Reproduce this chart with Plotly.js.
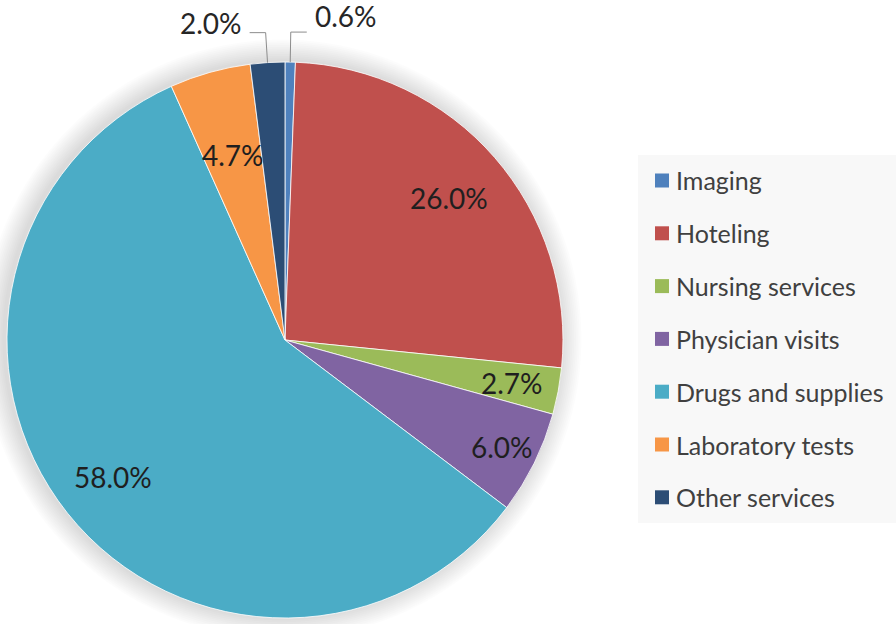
<!DOCTYPE html>
<html><head><meta charset="utf-8">
<script src="https://cdn.plot.ly/plotly-3.0.1.min.js"></script>
<style>html,body{margin:0;padding:0;background:#fff}#chart{width:896px;height:624px}</style>
</head><body><div id="chart"></div>
<script>
const categories = ['Imaging','Hoteling','Nursing services','Physician visits','Drugs and supplies','Laboratory tests','Other services'];
const shares = [0.6, 26.0, 2.7, 6.0, 58.0, 4.7, 2.0];
const colors = ['#4f81bd','#c0504d','#9bbb59','#8064a2','#4bacc6','#f79646','#2c4d75'];
const outsideLabels = ['Imaging','Other services'];
// radial placement of inside labels, as a fraction of the radius (style only)
const labelRadius = [0, 0.78, 0.83, 0.87, 0.79, 0.69, 0];

const W = 896, H = 624;
const dom = {x:[0.0078, 0.6283], y:[0.0096, 0.9006]};
const cx = (dom.x[0]+dom.x[1])/2*W;
const cy = H - (dom.y[0]+dom.y[1])/2*H;
const R = Math.min((dom.x[1]-dom.x[0])*W, (dom.y[1]-dom.y[0])*H)/2;
const total = shares.reduce((a,b)=>a+b,0);
const FONT = 'Lato, "Open Sans", sans-serif';
const px = t=>t/W, py = t=>1-t/H;

const trace = {
  type:'pie', labels:categories, values:shares, sort:false, direction:'clockwise', rotation:0,
  marker:{colors:colors, line:{color:'#ffffff', width:0.8}},
  textinfo:'none', domain:dom, showlegend:false, hoverinfo:'label+value'
};

const shapes = [], annotations = [];
// soft shadow/glow under the pie
for(let k=1;k<=12;k++){
  const r = R + k*1.8;
  shapes.push({type:'circle', xref:'paper', yref:'paper', layer:'below',
    x0:px(cx-3-r), x1:px(cx-3+r), y0:py(cy-1+r), y1:py(cy-1-r),
    fillcolor:'rgba(0,0,0,0.012)', line:{width:0}});
}

let cum = 0;
shares.forEach((v,i)=>{
  const mid = (cum + v/2)/total*2*Math.PI; cum += v;
  const label = v.toFixed(1)+'%';
  if(outsideLabels.includes(categories[i])){
    const ex = cx + R*Math.sin(mid), ey = cy - R*Math.cos(mid);
    const kx = cx + (R+30)*Math.sin(mid), ky = cy - (R+30)*Math.cos(mid);
    const side = Math.sin(mid) >= 0 ? 1 : -1;
    const hx = kx + side*16;
    shapes.push({type:'path', xref:'paper', yref:'paper',
      path:`M ${px(ex)} ${py(ey)} L ${px(kx)} ${py(ky)} L ${px(hx)} ${py(ky)}`,
      line:{color:'#8c8c8c', width:1}});
    annotations.push({xref:'paper', yref:'paper', x:px(hx+side*6), y:py(ky), xanchor: side>0?'left':'right', yanchor:'middle', yshift: side>0?16:10,
      text: label, showarrow:false, font:{family:FONT, size:28, color:'#262626'}});
  } else {
    const r = R*labelRadius[i];
    annotations.push({xref:'paper', yref:'paper', x:px(cx + r*Math.sin(mid)), y:py(cy - r*Math.cos(mid)),
      xanchor:'center', yanchor:'middle', text:label, showarrow:false,
      font:{family:FONT, size:28, color:'#1f1f1f'}});
  }
});

// legend box
const lg = {x0:638, x1:896, y0:155, y1:523, first:180.5, step:52.8};
shapes.push({type:'rect', xref:'paper', yref:'paper', x0:px(lg.x0), x1:px(lg.x1), y0:py(lg.y1), y1:py(lg.y0),
  fillcolor:'#f8f8f8', line:{width:0}, layer:'below'});
categories.forEach((c,i)=>{
  const yc = lg.first + lg.step*i;
  shapes.push({type:'rect', xref:'paper', yref:'paper', x0:px(655), x1:px(669), y0:py(yc+7), y1:py(yc-7),
    fillcolor:colors[i], line:{width:0}});
  annotations.push({xref:'paper', yref:'paper', x:px(674), y:py(yc), xanchor:'left', yanchor:'middle',
    text:c, showarrow:false, font:{family:FONT, size:25, color:'#404040'}});
});

Plotly.newPlot('chart',[trace],{
  width:W, height:H, margin:{l:0,r:0,t:0,b:0}, paper_bgcolor:'#ffffff', showlegend:false,
  shapes:shapes, annotations:annotations
},{staticPlot:true});
</script></body></html>
